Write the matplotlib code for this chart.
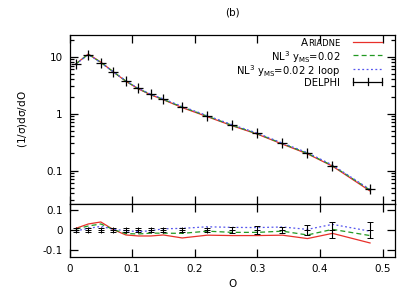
import matplotlib
matplotlib.use('Agg')
import matplotlib.pyplot as plt
import numpy as np
from matplotlib.ticker import FixedLocator, FuncFormatter, NullFormatter

plt.rcParams['font.family'] = 'DejaVu Sans'
plt.rcParams['mathtext.default'] = 'regular'

# bin centres of the DELPHI measurement
x = [0.01, 0.03, 0.05, 0.07, 0.09, 0.11, 0.13, 0.15, 0.18, 0.22,
     0.26, 0.30, 0.34, 0.38, 0.42, 0.48]
# DELPHI (1/sigma) dsigma/dO
delphi = [7.4, 10.8, 7.7, 5.4, 3.8, 2.8, 2.2, 1.8, 1.33, 0.91,
          0.63, 0.45, 0.30, 0.206, 0.122, 0.047]
# relative error of data
rel_err = [0.010, 0.010, 0.010, 0.010, 0.010, 0.010, 0.010, 0.010, 0.010, 0.011,
           0.015, 0.018, 0.017, 0.023, 0.042, 0.038]
# (MC - data)/data
ratio_ariadne = [0.008, 0.030, 0.040, 0.002, -0.025, -0.030, -0.030, -0.025, -0.040, -0.026,
                 -0.028, -0.028, -0.026, -0.043, -0.017, -0.065]
ratio_nl3 = [0.004, 0.020, 0.030, 0.002, -0.018, -0.020, -0.016, -0.016, -0.017, -0.006,
             -0.012, -0.012, -0.006, -0.025, 0.003, -0.028]
ratio_nl3_2loop = [-0.005, 0.008, 0.018, 0.004, -0.004, -0.008, -0.004, 0.006, 0.008, 0.016,
                   0.013, 0.012, 0.015, 0.003, 0.028, -0.006]

labels = ['RIADNE', 'NL$^3$ y$_{MS}$=0.02',
          'NL$^3$ y$_{MS}$=0.02 2 loop', 'DELPHI']
colors = ['#e8302a', '#229922', '#5555ee']
styles = ['-', (0, (4, 2.5)), (0, (1.5, 2))]

fig = plt.figure(figsize=(4.15, 2.91), dpi=100)
ax = fig.add_axes([0.1675, 0.299, 0.7845, 0.5807])
ax2 = fig.add_axes([0.1675, 0.117, 0.7845, 0.182])

delphi_a = np.array(delphi)
for r, c, s in zip([ratio_ariadne, ratio_nl3, ratio_nl3_2loop], colors, styles):
    ax.plot(x, delphi_a * (1 + np.array(r)), color=c, ls=s, lw=0.9)
    ax2.plot(x, r, color=c, ls=s, lw=0.9)

ax.errorbar(x, delphi, yerr=delphi_a * np.array(rel_err), fmt='+', color='black',
            ms=7, mew=0.9, elinewidth=0.8, capsize=0)
ax2.errorbar(x, np.zeros(len(x)), yerr=rel_err, fmt='+', color='black',
             ms=5, mew=0.7, elinewidth=0.8, capsize=2.5)

# hand-made key, gnuplot style (text right aligned, sample to the right)
row_y = [0.958, 0.884, 0.798, 0.724]
tx, hx0, hx1 = 0.831, 0.872, 0.961
for i, lab in enumerate(labels):
    y = row_y[i]
    fs = 6 if i == 0 else 7.2
    t = ax.text(tx, y, lab, transform=ax.transAxes, ha='right', va='center_baseline',
                fontsize=fs)
    if i == 0:
        ax.annotate('A', xy=(0, 0), xycoords=t, ha='right', va='bottom', fontsize=7.5)
    if i < 3:
        ax.plot([hx0, hx1], [y, y], transform=ax.transAxes, color=colors[i],
                ls=styles[i], lw=0.9, clip_on=False)
    else:
        ax.plot([hx0, hx1], [y, y], transform=ax.transAxes, color='black', lw=0.9)
        for xx in [hx0, (hx0 + hx1) / 2, hx1]:
            ax.plot([xx, xx], [y - 0.02, y + 0.02], transform=ax.transAxes,
                    color='black', lw=0.9)

ax.set_yscale('log')
ax.set_ylim(0.026, 24)
ax.set_xlim(0, 0.52)
ax.yaxis.set_major_locator(FixedLocator([0.1, 1, 10]))
ax.yaxis.set_major_formatter(FuncFormatter(lambda v, p: '%g' % v))
ax.yaxis.set_minor_formatter(NullFormatter())
ax.set_xticks([0, 0.1, 0.2, 0.3, 0.4, 0.5])
ax.set_xticklabels([])
ax.set_ylabel('(1/$\\sigma$)$d\\sigma$/$d$O', fontsize=7.5, labelpad=12)
ax.set_title('(b)', fontsize=7.5, pad=14)

ax2.set_xlim(0, 0.52)
ax2.set_ylim(-0.135, 0.13)
ax2.set_yticks([-0.1, 0, 0.1])
ax2.set_yticklabels(['-0.1', '0', '0.1'])
ax2.set_xticks([0, 0.1, 0.2, 0.3, 0.4, 0.5])
ax2.set_xticklabels(['0', '0.1', '0.2', '0.3', '0.4', '0.5'])
ax2.set_xlabel('O', fontsize=7.5, labelpad=4)

for a in (ax, ax2):
    a.tick_params(which='both', direction='in', top=True, right=True, labelsize=7.5,
                  width=0.9)
    a.tick_params(which='major', length=6, pad=5)
    a.tick_params(which='minor', length=3)
    for sp in a.spines.values():
        sp.set_linewidth(0.9)

fig.savefig('out.png', dpi=100)
